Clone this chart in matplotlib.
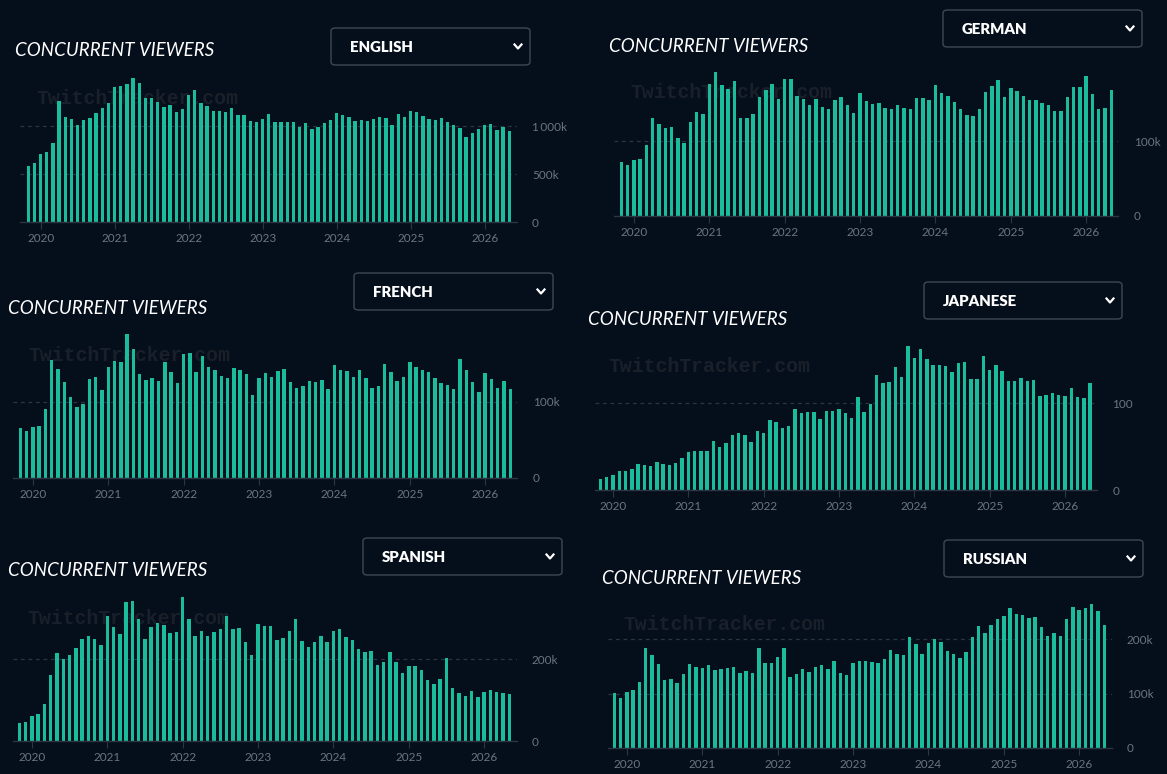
import pandas as pd
import matplotlib
matplotlib.use('Agg')
import matplotlib.pyplot as plt
from matplotlib.patches import FancyBboxPatch
from matplotlib.lines import Line2D

W, H = 1167, 774
BG = '#050e1b'
BAR = '#1abc9c'
GRID = '#2c3541'
LABEL = '#6b7480'

# monthly bars, Nov 2019 .. May 2026 (values in thousands)
months = pd.date_range('2019-11-01', periods=79, freq='MS')

english = [587, 618, 712, 733, 826, 1264, 1097, 1076, 1014, 1066, 1087, 1139, 1191, 1243,
           1410, 1420, 1441, 1503, 1451, 1295, 1295, 1253, 1201, 1222, 1149, 1181,
           1326, 1378, 1243, 1212, 1160, 1160, 1149, 1191, 1118, 1118, 1056, 1045,
           1076, 1128, 1045, 1045, 1045, 1045, 993, 1035, 972, 993, 1035, 1066,
           1139, 1118, 1097, 1056, 1066, 1056, 1076, 1097, 1087, 1014, 1128, 1097,
           1160, 1149, 1108, 1076, 1066, 1087, 1045, 1014, 983, 889, 931, 972,
           1014, 1024, 962, 993, 951]

german = [72, 68, 75, 76, 95, 131, 123, 117, 119, 104, 97, 125, 139, 136,
          176, 192, 175, 169, 180, 131, 131, 136, 159, 168, 176, 156,
          183, 183, 160, 156, 148, 156, 145, 143, 155, 159, 148, 137,
          164, 153, 149, 151, 144, 143, 148, 144, 143, 157, 157, 155,
          175, 164, 160, 152, 143, 135, 133, 143, 165, 173, 181, 159,
          171, 167, 160, 155, 155, 151, 148, 140, 140, 159, 172, 172,
          187, 163, 143, 144, 168]

french = [66, 62, 67, 68, 91, 155, 143, 126, 107, 93, 97, 130, 133, 116,
          146, 154, 153, 190, 170, 137, 129, 132, 128, 153, 140, 125,
          163, 165, 140, 161, 146, 142, 134, 132, 145, 142, 137, 109,
          132, 138, 133, 141, 143, 126, 118, 121, 128, 126, 129, 117,
          149, 142, 141, 133, 142, 132, 118, 121, 150, 140, 128, 133,
          153, 146, 142, 140, 132, 125, 122, 117, 157, 142, 126, 113,
          138, 130, 118, 128, 117]

japanese = [12.6, 14.9, 17.2, 21.8, 21.8, 24.1, 29.9, 28.7, 27.6, 32.2, 29.9, 28.7, 31, 36.8,
            43.7, 44.8, 44.8, 44.8, 56.3, 49.4, 54, 63.2, 65.5, 63.2, 55.2, 67.8,
            65.5, 80.5, 78.2, 71.3, 73.6, 93.1, 88.5, 89.7, 89.7, 81.6, 90.8, 90.8,
            93.1, 88.5, 82.8, 106.9, 89.7, 98.9, 132.2, 123, 124.1, 141.4, 129.9, 165.5,
            151.7, 162.1, 150.6, 143.7, 143.7, 142.5, 135.6, 146, 147.1, 127.6, 127.6, 154,
            137.9, 143.7, 136.8, 125.3, 125.3, 128.7, 125.3, 126.4, 108, 109.2, 111.5, 109.2,
            108, 117.2, 106.9, 105.7, 123]

spanish = [44, 46, 61, 66, 90, 161, 215, 200, 210, 227, 249, 256, 249, 234,
           305, 278, 261, 339, 342, 298, 249, 278, 288, 283, 263, 266,
           351, 298, 256, 268, 256, 266, 273, 305, 273, 276, 242, 210,
           285, 281, 281, 246, 251, 268, 298, 244, 229, 242, 256, 242,
           268, 273, 254, 246, 224, 217, 220, 185, 193, 217, 193, 166,
           183, 183, 173, 149, 139, 151, 202, 129, 117, 110, 122, 107,
           120, 124, 120, 117, 115]

russian = [101, 92, 103, 106, 121, 184, 171, 154, 125, 127, 119, 136, 154, 149,
           147, 152, 143, 145, 147, 149, 138, 141, 138, 184, 156, 156,
           167, 184, 130, 136, 145, 139, 149, 152, 145, 160, 138, 134,
           156, 160, 160, 158, 156, 163, 180, 173, 171, 204, 191, 173,
           193, 200, 195, 178, 173, 165, 176, 204, 224, 211, 226, 237,
           242, 257, 246, 244, 239, 240, 222, 206, 211, 206, 237, 259,
           253, 257, 264, 251, 226]

panels = [
    # name, values, grid values, tick labels, geometry in reference pixels
    dict(name='ENGLISH', values=english, grids=[500, 1000], labels=['0', '500k', '1\u2009000k'],
         x0=28.3, x1=509.3, left=20, right=516.7, base=222.3, ref_y=126.3, ref_v=1000,
         title=(15, 50), box=(331, 28, 530, 65), mark=(36, 99)),
    dict(name='GERMAN', values=german, grids=[100], labels=['0', '100k'],
         x0=621.3, x1=1111.3, left=614, right=1118.3, base=216, ref_y=141, ref_v=100,
         title=(609, 45), box=(943, 10, 1142, 47), mark=(630, 93)),
    dict(name='FRENCH', values=french, grids=[100], labels=['0', '100k'],
         x0=20.3, x1=510.3, left=13.3, right=517.3, base=478, ref_y=402, ref_v=100,
         title=(8, 307), box=(354, 273, 553, 310), mark=(28, 355)),
    dict(name='JAPANESE', values=japanese, grids=[100], labels=['0', '100'],
         x0=600.4, x1=1090.1, left=595, right=1097, base=490, ref_y=403, ref_v=100,
         title=(588, 319), box=(924, 282, 1122, 319), mark=(608, 367)),
    dict(name='SPANISH', values=spanish, grids=[200], labels=['0', '200k'],
         x0=19.3, x1=509.3, left=12.7, right=516.7, base=741, ref_y=659, ref_v=200,
         title=(8, 570), box=(363, 538, 562, 575), mark=(27, 618)),
    dict(name='RUSSIAN', values=russian, grids=[100, 200], labels=['0', '100k', '200k'],
         x0=614.3, x1=1104.3, left=607.7, right=1111.7, base=748, ref_y=639, ref_v=200,
         title=(602, 578), box=(944, 540, 1143, 577), mark=(623, 625)),
]

FONT = ['Lato', 'DejaVu Sans']


def fx(px):
    return px / W


def fy(py):
    return 1 - py / H


def draw_panel(fig, p):
    n = len(p['values'])
    ppm = (p['x1'] - p['x0']) / (n - 1)
    ppv = (p['base'] - p['ref_y']) / p['ref_v']
    top = max(p['values']) * 1.04
    height_px = top * ppv

    ax = fig.add_axes([fx(p['left']), fy(p['base']),
                       (p['right'] - p['left']) / W, height_px / H])
    ax.set_facecolor('none')
    ax.set_xlim((p['left'] - p['x0']) / ppm, (p['right'] - p['x0']) / ppm)
    ax.set_ylim(0, top)

    x = list(range(n))
    ax.bar(x, p['values'], width=0.55, color=BAR, zorder=2)

    for g in p['grids']:
        ax.axhline(g, color=GRID, lw=0.9, ls=(0, (3, 3)), zorder=1)

    for side in ['top', 'left', 'right']:
        ax.spines[side].set_visible(False)
    ax.spines['bottom'].set_color(GRID)
    ax.spines['bottom'].set_linewidth(1.0)

    jan = [i for i, m in enumerate(months) if m.month == 1]
    ax.set_xticks(jan)
    ax.set_xticklabels([str(months[i].year) for i in jan], family=FONT,
                       fontsize=8.5, color=LABEL)
    ax.tick_params(axis='x', length=5, color=GRID, pad=3)

    ax.yaxis.tick_right()
    ax.set_yticks([0] + p['grids'])
    ax.set_yticklabels(p['labels'], family=FONT, fontsize=8.5, color=LABEL)
    ax.tick_params(axis='y', length=0, pad=11)

    # watermark sits behind the bars
    mx, my = p['mark']
    ax.text(fx(mx), fy(my), 'TwitchTracker.com', transform=fig.transFigure,
            family='Liberation Mono', fontweight='bold', fontsize=14.3,
            color='#19202a', ha='left', va='center', zorder=0.5, clip_on=False)

    tx, ty = p['title']
    fig.text(fx(tx), fy(ty + 1), 'CONCURRENT VIEWERS', family=FONT, style='italic',
             fontsize=13.5, color='white', ha='left', va='center')

    # language dropdown
    bx0, by0, bx1, by1 = p['box']
    box = FancyBboxPatch((fx(bx0), fy(by1)), (bx1 - bx0) / W, (by1 - by0) / H,
                         boxstyle='round,pad=0,rounding_size=0.004',
                         transform=fig.transFigure, facecolor=BG,
                         edgecolor='#3e4755', lw=1.0)
    fig.add_artist(box)
    cy = (by0 + by1) / 2
    fig.text(fx(bx0 + 19), fy(cy + 1), p['name'], family=FONT, fontweight='heavy',
             fontsize=10.8, color='white', ha='left', va='center')
    cx = bx1 - 12
    fig.add_artist(Line2D([fx(cx - 3.5), fx(cx), fx(cx + 3.5)],
                          [fy(cy - 2), fy(cy + 2), fy(cy - 2)],
                          transform=fig.transFigure, color='white', lw=1.6))


fig = plt.figure(figsize=(W / 100, H / 100), dpi=100, facecolor=BG)
for p in panels:
    draw_panel(fig, p)

fig.savefig('out.png', dpi=100, facecolor=BG)
